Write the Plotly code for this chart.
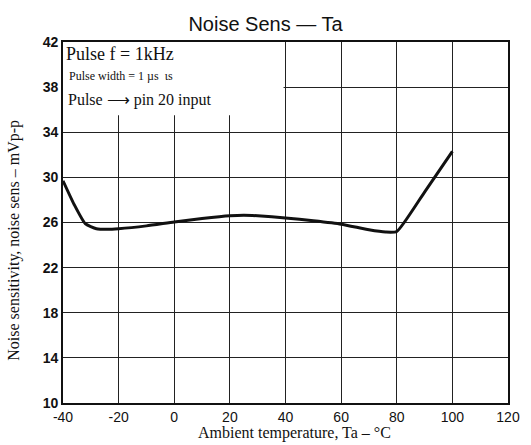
import plotly.graph_objects as go

temp_c = [-40, -36, -32, -28, -24, -20, -10, 0, 10, 20, 25, 30, 40, 50, 60, 70, 76, 80, 90, 100]
noise_mvpp = [29.7, 27.6, 25.9, 25.45, 25.4, 25.45, 25.7, 26.05, 26.35, 26.6, 26.65, 26.6,
              26.4, 26.15, 25.85, 25.35, 25.15, 25.2, 28.7, 32.3]

x_ticks = [-40, -20, 0, 20, 40, 60, 80, 100, 120]
y_ticks = [10, 14, 18, 22, 26, 30, 34, 38, 42]

title_text = "Noise Sens — Ta"
x_title = "Ambient temperature, Ta – °C"
y_title = "Noise sensitivity, noise sens – mVp-p"
note_lines = ["Pulse f = 1kHz", "Pulse width = 1 µs  ιs", "Pulse ⟶ pin 20 input"]

serif = "Liberation Serif, Times New Roman, serif"
sans = "Liberation Sans, Arial, sans-serif"

fig = go.Figure()
fig.add_trace(go.Scatter(
    x=temp_c, y=noise_mvpp, mode="lines",
    line=dict(color="#111111", width=3, shape="spline", smoothing=0.5),
    showlegend=False, hoverinfo="skip",
))

# white box hiding grid behind the notes
fig.add_shape(type="rect", xref="x", yref="y", x0=-40, x1=39.3, y0=35.5, y1=42,
              fillcolor="white", line=dict(width=0), layer="between")

fig.add_annotation(x=-39.5, y=42.0, xref="x", yref="y", text=note_lines[0],
                   showarrow=False, xanchor="left", yanchor="top",
                   font=dict(family=serif, size=18, color="#111"))
fig.add_annotation(x=-38.5, y=39.8, xref="x", yref="y", text=note_lines[1],
                   showarrow=False, xanchor="left", yanchor="top",
                   font=dict(family=serif, size=12, color="#111"))
fig.add_annotation(x=-39, y=37.8, xref="x", yref="y", text=note_lines[2],
                   showarrow=False, xanchor="left", yanchor="top",
                   font=dict(family=serif, size=16, color="#111"))

fig.add_annotation(x=0.52, y=-0.083, xref="paper", yref="paper", text=x_title,
                   showarrow=False, xanchor="center", yanchor="middle",
                   font=dict(family=serif, size=16, color="#111"))
fig.add_annotation(x=-0.112, y=0.45, xref="paper", yref="paper", text=y_title,
                   showarrow=False, textangle=-90, xanchor="center", yanchor="middle",
                   font=dict(family=serif, size=16, color="#111"))

fig.update_layout(
    width=531, height=445,
    margin=dict(l=63, r=23, t=42, b=42),
    paper_bgcolor="white", plot_bgcolor="white",
    title=dict(text=title_text, x=0.5, xanchor="center", y=0.962, yanchor="top",
               font=dict(family=sans, size=20, color="#111")),
)
fig.update_xaxes(
    range=[-40, 120], tickmode="array", tickvals=x_ticks,
    ticktext=[str(v) for v in x_ticks],
    showgrid=True, gridcolor="#222", gridwidth=1.3,
    showline=True, linecolor="#111", linewidth=1.8, mirror=True,
    ticks="", zeroline=False,
    tickfont=dict(family=sans, size=14, color="#111"),
)
fig.update_yaxes(
    range=[10, 42], tickmode="array", tickvals=y_ticks,
    ticktext=[str(v) for v in y_ticks],
    showgrid=True, gridcolor="#222", gridwidth=1.3,
    showline=True, linecolor="#111", linewidth=1.8, mirror=True,
    ticks="", zeroline=False,
    tickfont=dict(family=sans, size=14, color="#111", weight="bold"),
)

fig.write_html("out.html", config={"displayModeBar": False},
               post_script="document.body.style.margin='0';")
